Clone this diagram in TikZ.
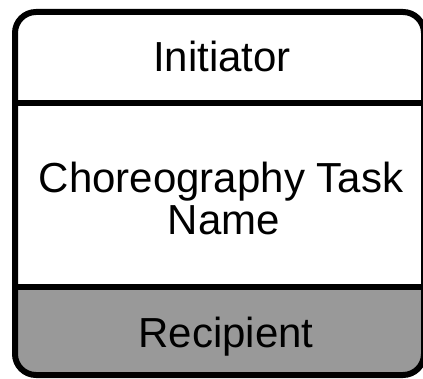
\documentclass[tikz,border=0pt]{standalone}
\usepackage{fontspec}
\setmainfont{Liberation Sans}
\definecolor{bandgray}{HTML}{999999}
\begin{document}
\begin{tikzpicture}[x=1pt,y=-1pt,
  lbl/.style={anchor=base, inner sep=0pt, align=center, font=\fontsize{42}{42}\selectfont},
  border/.style={line width=6pt, draw=black}]
\useasboundingbox (0,0) rectangle (423,379);
\begin{scope}
  \clip[rounded corners=21pt] (15,12) rectangle (424,375);
  \fill[white] (15,12) rectangle (424,375);
  \fill[bandgray] (0,287.5) rectangle (430,380);
\end{scope}
\draw[border] (15,103.5) -- (424,103.5);
\draw[border] (15,287.5) -- (424,287.5);
\draw[border, rounded corners=21pt] (15,12) rectangle (424,375);
\node[lbl] (init) at (222,72) {Initiator};
\node[lbl] (task) at (221,193) {Choreography Task};
\node[lbl] (name) at (224,235) {Name};
\node[lbl] (recp) at (226,348) {Recipient};
\end{tikzpicture}
\end{document}
